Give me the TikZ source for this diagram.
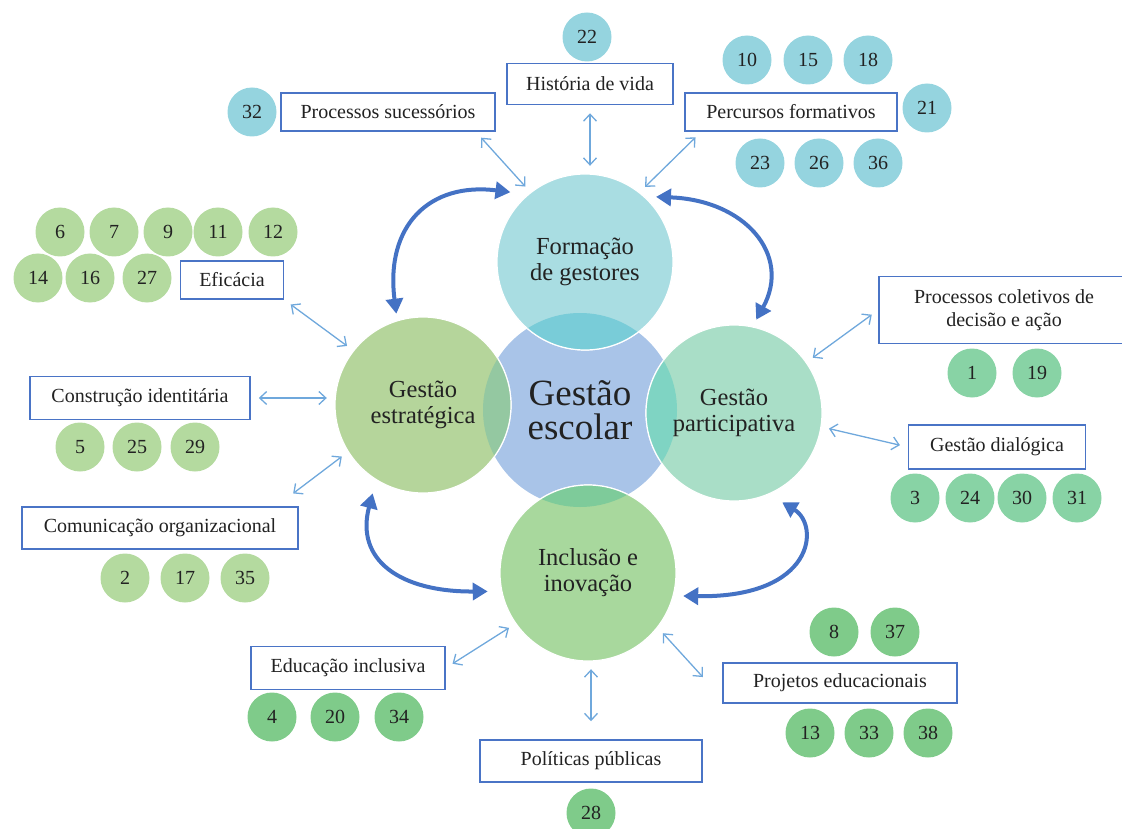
\documentclass[tikz,border=0pt]{standalone}
\usepackage{fontspec}
\setmainfont{Liberation Serif}
\usetikzlibrary{arrows.meta}
\definecolor{HubBlue}{HTML}{A9C4E8}
\definecolor{TopCyan}{HTML}{A9DDE2}
\definecolor{TopLens}{HTML}{79CCD8}
\definecolor{LeftGreen}{HTML}{B5D59B}
\definecolor{LeftLens}{HTML}{94C8A1}
\definecolor{RightMint}{HTML}{A9DEC7}
\definecolor{RightLens}{HTML}{7FD4C3}
\definecolor{LowGreen}{HTML}{A8D89D}
\definecolor{LowLens}{HTML}{7ECB9A}
\definecolor{NumCyan}{HTML}{95D4DF}
\definecolor{NumLight}{HTML}{B4DA9F}
\definecolor{NumMint}{HTML}{88D3A5}
\definecolor{NumGreen}{HTML}{7FCB8A}
\definecolor{FrameBlue}{HTML}{4A74C6}
\definecolor{SpokeBlue}{HTML}{6FA8DC}
\definecolor{OrbitBlue}{HTML}{4472C4}
\definecolor{Ink}{HTML}{222222}

\begin{document}
\begin{tikzpicture}[x=1pt, y=-1pt, font=\fontsize{20}{23}\selectfont, text=Ink,
        themebox/.style={draw=FrameBlue, line width=1.5pt, fill=white, minimum height=38pt, inner sep=3pt, align=center},
        refnum/.style={circle, minimum size=49pt, inner sep=0pt},
        topic/.style={circle, minimum size=176pt, inner sep=0pt, align=center, font=\fontsize{24.5}{26}\selectfont},
        spoke/.style={SpokeBlue, line width=1.3pt, {Straight Barb[length=7pt,width=13pt]}-{Straight Barb[length=7pt,width=13pt]}, shorten <=8pt, shorten >=8pt},
        orbit/.style={OrbitBlue, line width=4pt, {Triangle[length=15pt,width=17pt]}-{Triangle[length=15pt,width=17pt]}}]
            \useasboundingbox (0,0) rectangle (1122,829);
            \coordinate (pCore) at (580,410);
            \coordinate (pForm) at (585,262);
            \coordinate (pEstr) at (423,405);
            \coordinate (pPart) at (734,413);
            \coordinate (pIncl) at (588,573);
            \fill[HubBlue] (pCore) circle[radius=97pt];
            \foreach \p/\c in {pForm/TopCyan, pEstr/LeftGreen, pPart/RightMint, pIncl/LowGreen} {
                \filldraw[fill=\c, draw=white, line width=1.2pt] (\p) circle[radius=88pt];
            }
            \begin{scope}
                \clip (pCore) circle[radius=97pt];
                \foreach \p/\c in {pForm/TopLens, pEstr/LeftLens, pPart/RightLens, pIncl/LowLens} {
                    \filldraw[fill=\c, draw=white, line width=1.2pt] (\p) circle[radius=88pt];
                }
            \end{scope}
            \node[circle, minimum size=194pt, inner sep=0pt, align=center, font=\fontsize{37}{34}\selectfont] (core) at (pCore) {Gestão\\escolar};
            \node[topic] (form) at (pForm) {Formação\\de gestores};
            \node[topic] (estr) at (pEstr) {Gestão\\estratégica};
            \node[topic] (part) at (pPart) {Gestão\\participativa};
            \node[topic] (incl) at (pIncl) {Inclusão e\\inovação};

            \node[themebox, minimum width=214pt] (proc) at (388,112) {Processos sucessórios};
            \node[themebox, minimum width=166pt, minimum height=41pt] (hist) at (590,84) {História de vida};
            \node[themebox, minimum width=212pt] (perc) at (791,112) {Percursos formativos};
            \node[themebox, minimum width=103pt] (efic) at (232,280) {Eficácia};
            \node[themebox, minimum width=220pt, minimum height=43pt] (constr) at (140,398) {Construção identitária};
            \node[themebox, minimum width=276pt, minimum height=42pt] (com) at (160,528) {Comunicação organizacional};
            \node[themebox, minimum width=250pt, minimum height=67pt] (colet) at (1004,310) {Processos coletivos de\\decisão e ação};
            \node[themebox, minimum width=177pt, minimum height=44pt] (dial) at (997,447) {Gestão dialógica};
            \node[themebox, minimum width=194pt, minimum height=43pt] (edu) at (348,668) {Educação inclusiva};
            \node[themebox, minimum width=222pt, minimum height=42pt] (pol) at (591,761) {Políticas públicas};
            \node[themebox, minimum width=234pt, minimum height=40pt] (proj) at (840,683) {Projetos educacionais};

            \foreach \n/\x/\y in {22/587/37, 32/252/112, 10/747/60, 15/808/60, 18/868/60, 21/927/108, 23/760/163, 26/819/163, 36/878/163} {
                \node[refnum, fill=NumCyan] (n\n) at (\x,\y) {\n};
            }
            \foreach \n/\x/\y in {6/60/232, 7/114/232, 9/168/232, 11/218/232, 12/273/232, 14/38/278, 16/90/278, 27/147/278, 5/80/447, 25/137/447, 29/195/447, 2/125/578, 17/185/578, 35/245/578} {
                \node[refnum, fill=NumLight] (n\n) at (\x,\y) {\n};
            }
            \foreach \n/\x/\y in {1/972/373, 19/1037/373, 3/915/498, 24/970/498, 30/1022/498, 31/1077/498} {
                \node[refnum, fill=NumMint] (n\n) at (\x,\y) {\n};
            }
            \foreach \n/\x/\y in {4/272/717, 20/335/717, 34/399/717, 28/591/813, 8/834/632, 37/895/632, 13/810/733, 33/869/733, 38/928/733} {
                \node[refnum, fill=NumGreen] (n\n) at (\x,\y) {\n};
            }

            \draw[spoke] ([xshift=-20pt]proc.south east) -- (form.128);
            \draw[spoke] (hist.south) -- (hist.south |- form.north);
            \draw[spoke] ([xshift=17pt]perc.south west) -- (form.52);
            \draw[spoke] (efic.south east) -- (estr.142);
            \draw[spoke] (constr.east) -- (constr.east -| estr.west);
            \draw[spoke] ([xshift=-12pt,yshift=8pt]com.north east) -- (estr.212);
            \draw[spoke] (colet.west) -- (part.35);
            \draw[spoke] (dial.west) -- (part.-9);
            \draw[spoke] (edu.east) -- (incl.215);
            \draw[spoke, shorten <=18pt] (pol.north) -- (pol.north |- incl.south);
            \draw[spoke] ([xshift=-14pt]proj.west) -- (incl.-38);

            \draw[orbit, shorten <=7pt, shorten >=18pt] (estr.107) .. controls (385,225) and (430,182) .. (form.130);
            \draw[orbit, shorten <=12pt, shorten >=8pt] (form.48) .. controls (745,200) and (792,255) .. (part.78);
            \draw[orbit, shorten <=14pt, shorten >=14pt] (estr.238) .. controls (355,560) and (400,592) .. (incl.192);
            \draw[orbit, shorten <=16pt, shorten >=10pt] (part.-67) .. controls (820,525) and (815,598) .. (incl.-15);
        \end{tikzpicture}
\end{document}
